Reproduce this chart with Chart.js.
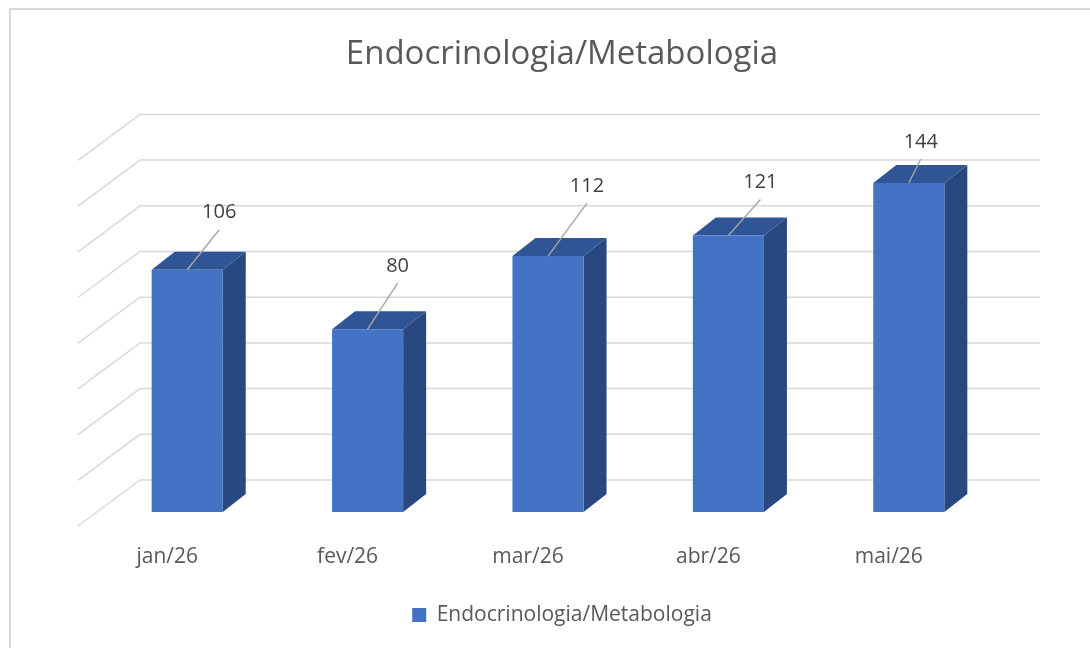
<!DOCTYPE html>
<html lang="pt">
<head>
<meta charset="UTF-8">
<title>Endocrinologia/Metabologia</title>
<script src="https://cdn.jsdelivr.net/npm/chart.js"></script>
<style>
  html, body { margin: 0; padding: 0; background: #fff; }
  #wrap { width: 1090px; height: 648px; }
</style>
</head>
<body>
<div id="wrap"><canvas id="grafico" width="1090" height="648"></canvas></div>
<script>
  // dados
  const meses = ['jan/26', 'fev/26', 'mar/26', 'abr/26', 'mai/26'];
  const serie = 'Endocrinologia/Metabologia';
  const atendimentos = [106, 80, 112, 121, 144];
  const escalaMax = 160;
  const escalaPasso = 20;

  // perspectiva "3D" (estilo Excel)
  const PROF = { dx: 23, dy: -18 };     // profundidade da barra
  const PAREDE = { dx: 43, dy: -32 };   // parede do fundo em relação à frente das barras
  const CHAO = { dx: -19, dy: 14 };     // borda da frente do chão
  // onde ficam os rótulos em relação ao topo de cada barra
  const rotuloDesloc = [[32, -57], [30, -63], [39, -70], [32, -53], [12, -41]];

  Chart.defaults.font.family = "'Open Sans', sans-serif";

  const efeito3d = {
    id: 'efeito3d',
    beforeDatasetsDraw(chart) {
      const { ctx, chartArea: a, scales: { y } } = chart;
      ctx.save();
      // grade na parede do fundo + linhas do lado esquerdo
      ctx.strokeStyle = '#d9d9d9';
      ctx.lineWidth = 1.5;
      y.ticks.forEach(t => {
        const p = y.getPixelForValue(t.value);
        ctx.beginPath();
        ctx.moveTo(a.left + CHAO.dx, p + CHAO.dy);
        ctx.lineTo(a.left + PAREDE.dx, p + PAREDE.dy);
        ctx.lineTo(a.right + PAREDE.dx - 2, p + PAREDE.dy);
        ctx.stroke();
      });
      // topo e lateral das barras
      chart.getDatasetMeta(0).data.forEach(bar => {
        const { x, y: topo, base, width } = bar.getProps(['x', 'y', 'base', 'width'], true);
        const e = x - width / 2, d = x + width / 2;
        ctx.fillStyle = '#2f5597';
        ctx.beginPath();
        ctx.moveTo(e, topo);
        ctx.lineTo(e + PROF.dx, topo + PROF.dy);
        ctx.lineTo(d + PROF.dx, topo + PROF.dy);
        ctx.lineTo(d, topo);
        ctx.closePath();
        ctx.fill();
        ctx.fillStyle = '#29487f';
        ctx.beginPath();
        ctx.moveTo(d, topo);
        ctx.lineTo(d + PROF.dx, topo + PROF.dy);
        ctx.lineTo(d + PROF.dx, base + PROF.dy);
        ctx.lineTo(d, base);
        ctx.closePath();
        ctx.fill();
      });
      ctx.restore();
    },
    afterDatasetsDraw(chart) {
      const { ctx } = chart;
      const valores = chart.data.datasets[0].data;
      ctx.save();
      ctx.font = "20px 'Open Sans', sans-serif";
      ctx.textAlign = 'center';
      ctx.textBaseline = 'middle';
      chart.getDatasetMeta(0).data.forEach((bar, i) => {
        const [dx, dy] = rotuloDesloc[i];
        const lx = bar.x + dx, ly = bar.y + dy;
        ctx.strokeStyle = '#a6a6a6';
        ctx.lineWidth = 1.4;
        ctx.beginPath();
        ctx.moveTo(bar.x, bar.y);
        ctx.lineTo(lx, ly + 17);
        ctx.stroke();
        ctx.fillStyle = '#404040';
        ctx.fillText(valores[i], lx, ly);
      });
      ctx.restore();
    },
    afterDraw(chart) {
      const { ctx } = chart;
      ctx.save();
      ctx.strokeStyle = '#d9d9d9';
      ctx.lineWidth = 2;
      ctx.strokeRect(10, 9, 1200, 800);
      ctx.restore();
    }
  };

  new Chart(document.getElementById('grafico'), {
    type: 'bar',
    data: {
      labels: meses,
      datasets: [{
        label: serie,
        data: atendimentos,
        backgroundColor: '#4472c4',
        borderColor: '#4472c4',
        borderWidth: 0,
        barPercentage: 0.394,
        categoryPercentage: 1
      }]
    },
    options: {
      responsive: false,
      animation: false,
      layout: { padding: { left: 34, right: 0, top: 0, bottom: 12.5 } },
      plugins: {
        title: {
          display: true,
          text: serie,
          color: '#595959',
          font: { size: 33, weight: 'normal' },
          padding: { top: 35, bottom: 71.8 }
        },
        legend: {
          position: 'bottom',
          labels: {
            color: '#595959',
            font: { size: 21 },
            boxWidth: 14,
            boxHeight: 14,
            padding: 3.3
          }
        },
        tooltip: { enabled: false }
      },
      scales: {
        x: {
          grid: { display: false, drawTicks: false },
          border: { display: false },
          ticks: { color: '#595959', font: { size: 21 }, padding: 32, labelOffset: -20 }
        },
        y: {
          min: 0,
          max: escalaMax,
          grid: { display: false, drawTicks: false },
          border: { display: false },
          ticks: { display: false, stepSize: escalaPasso },
          afterFit: s => { s.width = 63; }
        },
        y2: {
          position: 'right',
          grid: { display: false, drawTicks: false },
          border: { display: false },
          ticks: { display: false },
          afterFit: s => { s.width = 91; }
        }
      }
    },
    plugins: [efeito3d]
  });
</script>
</body>
</html>
